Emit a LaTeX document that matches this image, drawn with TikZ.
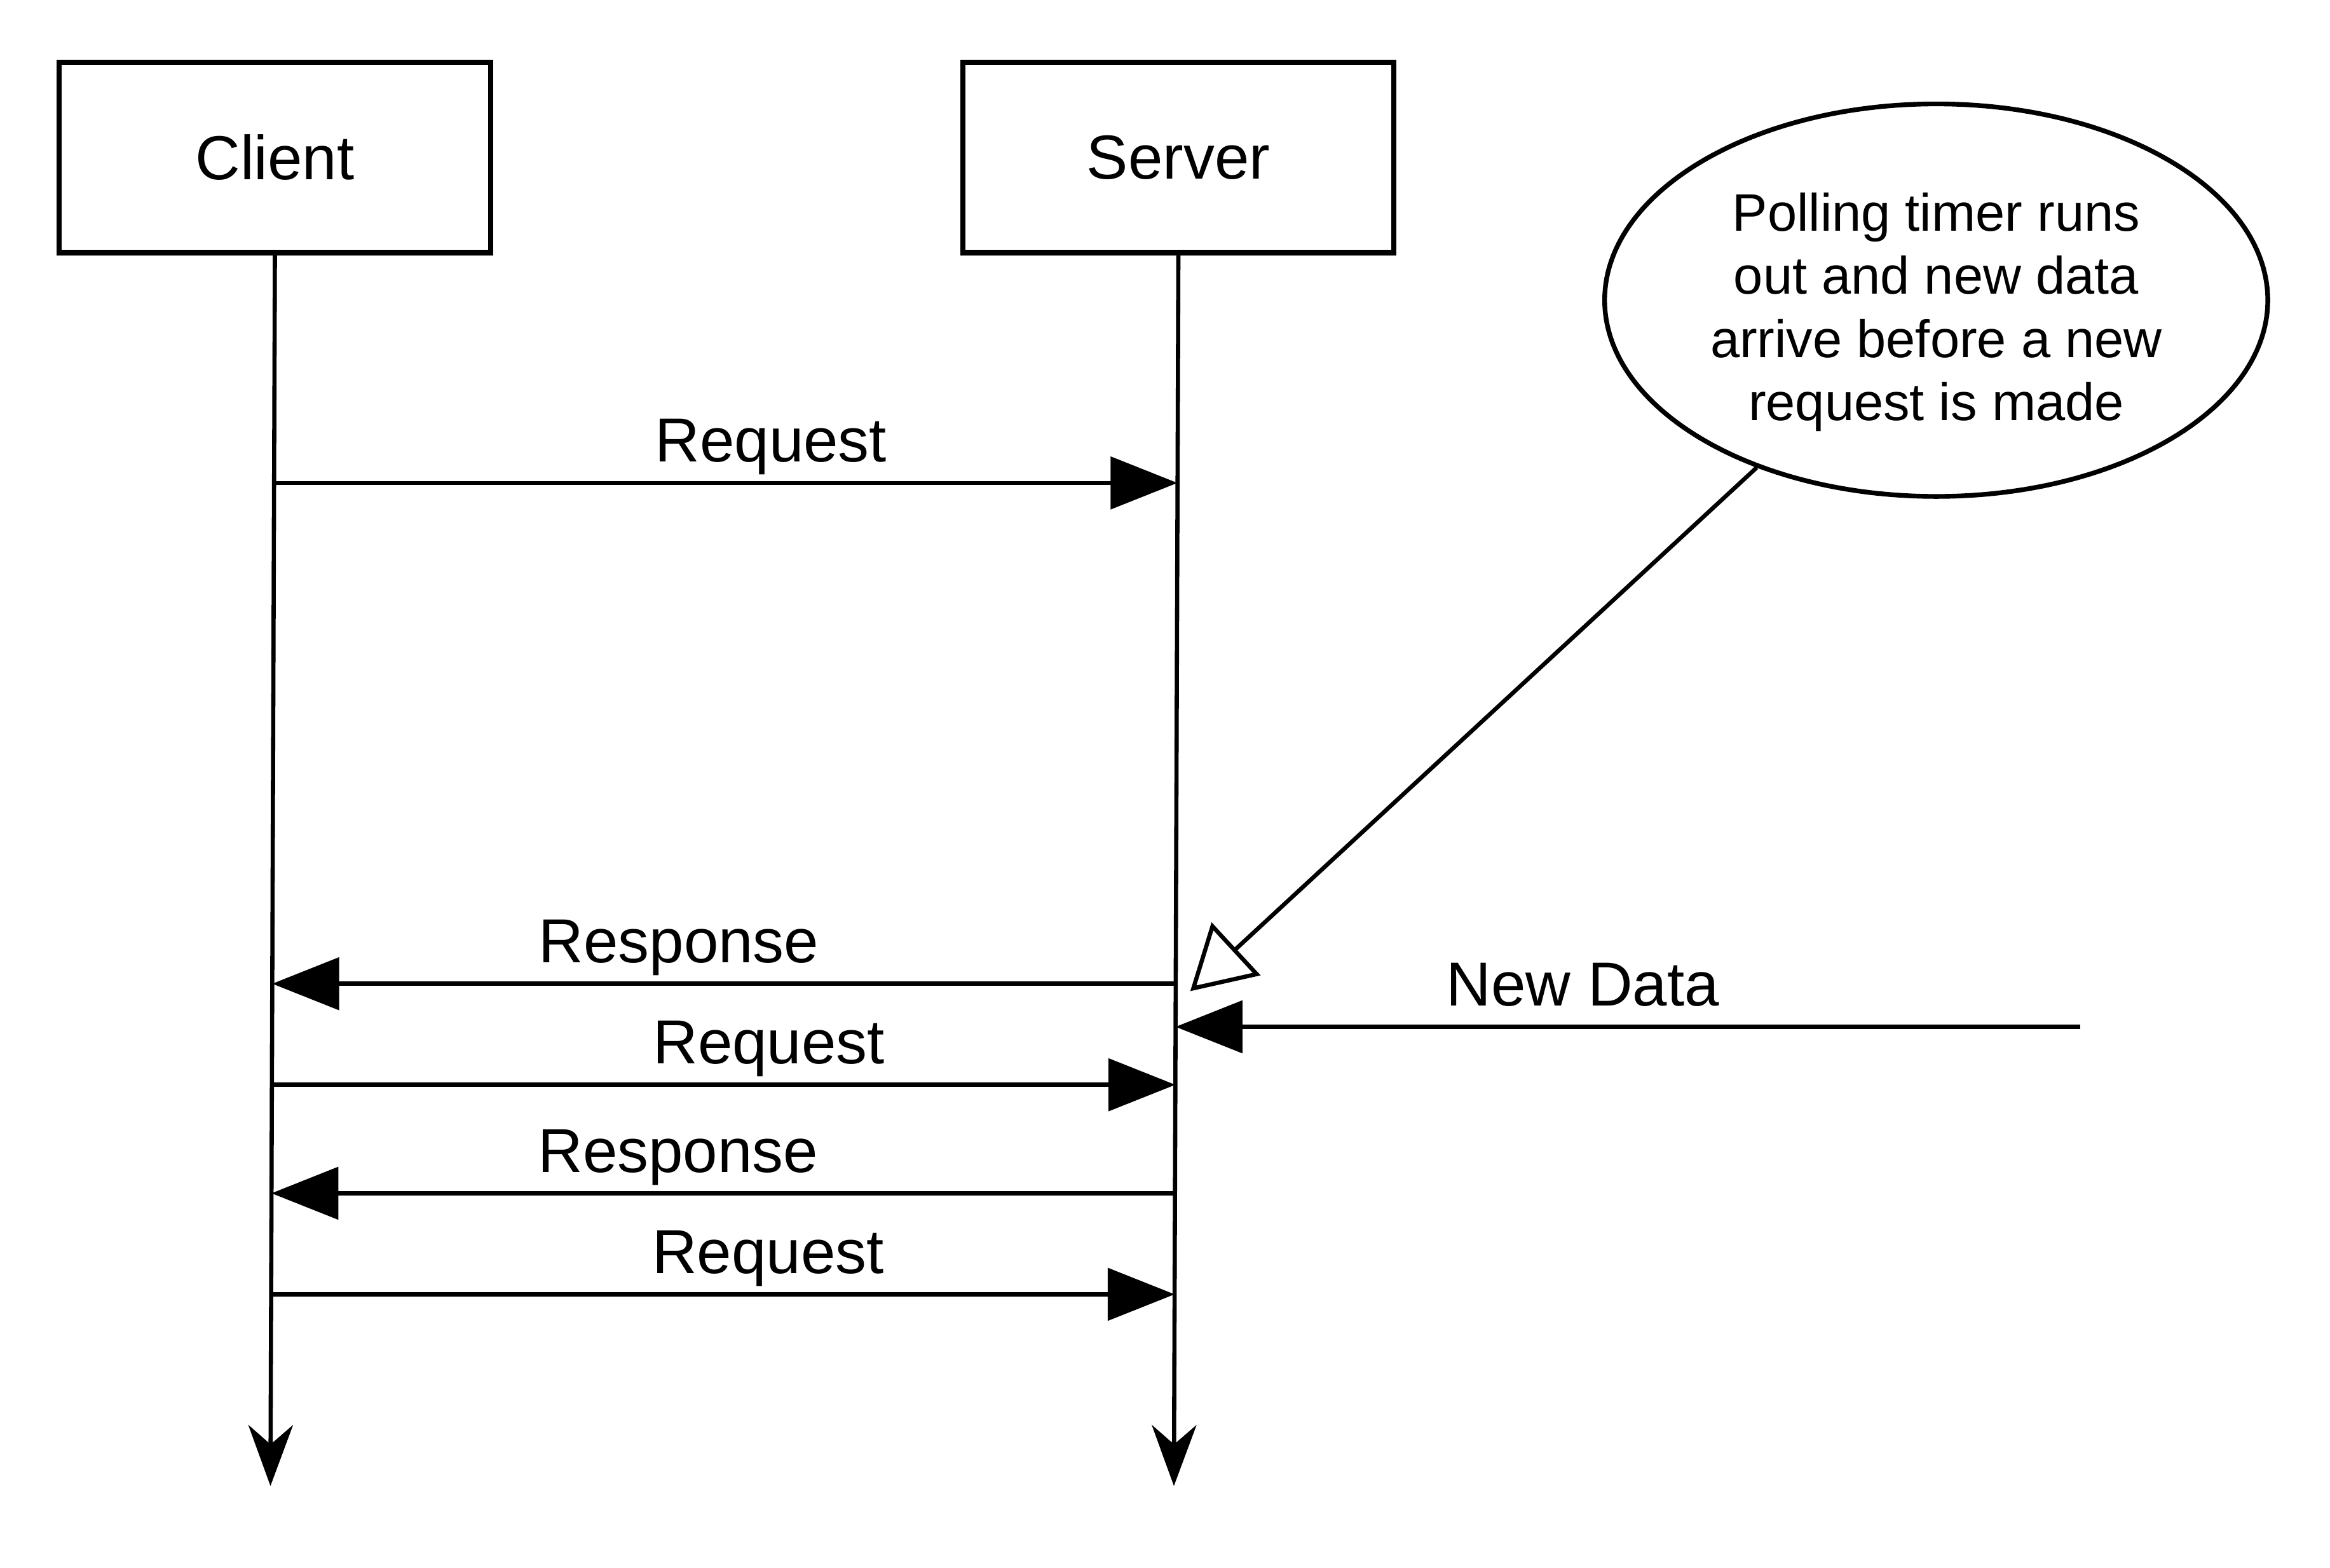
\documentclass[tikz,border=0pt]{standalone}
\usepackage{fontspec}
\setmainfont{Liberation Sans}
\usepackage{tikz}
\usetikzlibrary{arrows.meta, shapes.geometric}

\begin{document}
\begin{tikzpicture}[x=0.01cm, y=-0.01cm,
        font=\fontsize{11.9pt}{14pt}\selectfont,
        actor/.style={draw, line width=1pt, minimum width=2.9cm, minimum height=1.28cm, inner sep=0pt},
        life/.style={line width=0.8pt, -{Stealth[length=4.1mm, width=3mm, inset=1.3mm]}},
        msg/.style={line width=0.8pt, -{Triangle[length=4.5mm, width=3.5mm]}},
        callout/.style={line width=0.8pt, -{Triangle[open, length=4.2mm, width=4.8mm]}},
        lbl/.style={anchor=base, yshift=4pt, inner sep=0pt}]
        \useasboundingbox (0, 0) rectangle (1568, 1055);

        \node[actor] (client) at (185, 106) {Client};
        \node[actor] (server) at (793, 106) {Server};
        \node[ellipse, draw, line width=0.9pt, minimum width=4.46cm, minimum height=2.64cm, inner sep=0pt] (note) at (1303, 202) {};
        \node[align=center, font=\fontsize{10.1pt}{12.1pt}\selectfont] (notetext) at (1303, 210)
              {Polling timer runs\\out and new data\\arrive before a new\\request is made};

        % lifeline ends
        \coordinate (cend) at (182, 1000);
        \coordinate (send) at (790, 1000);
        \coordinate (data) at (1400, 691);

        % points on the lifelines
        \coordinate (c1) at (184.4, 325);
        \coordinate (s1) at (792.4, 325);
        \coordinate (c2) at (183.2, 662);
        \coordinate (s2) at (791.2, 662);
        \coordinate (s3) at (791.1, 691);
        \coordinate (c4) at (183.0, 730);
        \coordinate (s4) at (791.0, 730);
        \coordinate (c5) at (182.7, 803);
        \coordinate (s5) at (790.7, 803);
        \coordinate (c6) at (182.5, 871);
        \coordinate (s6) at (790.5, 871);
        \coordinate (tip) at (801, 667);

        \draw[life] (client.south) -- (cend);
        \draw[life] (server.south) -- (send);

        \draw[msg] (c1) -- node[lbl, pos=0.55] {Request} (s1);
        \draw[msg] (s2) -- node[lbl, pos=0.55] {Response} (c2);
        \draw[msg] (data) -- node[lbl, pos=0.55] {New Data} (s3);
        \draw[msg] (c4) -- node[lbl, pos=0.55] {Request} (s4);
        \draw[msg] (s5) -- node[lbl, pos=0.55] {Response} (c5);
        \draw[msg] (c6) -- node[lbl, pos=0.55] {Request} (s6);

        \draw[callout] (note.223) -- (tip);
    \end{tikzpicture}
\end{document}
